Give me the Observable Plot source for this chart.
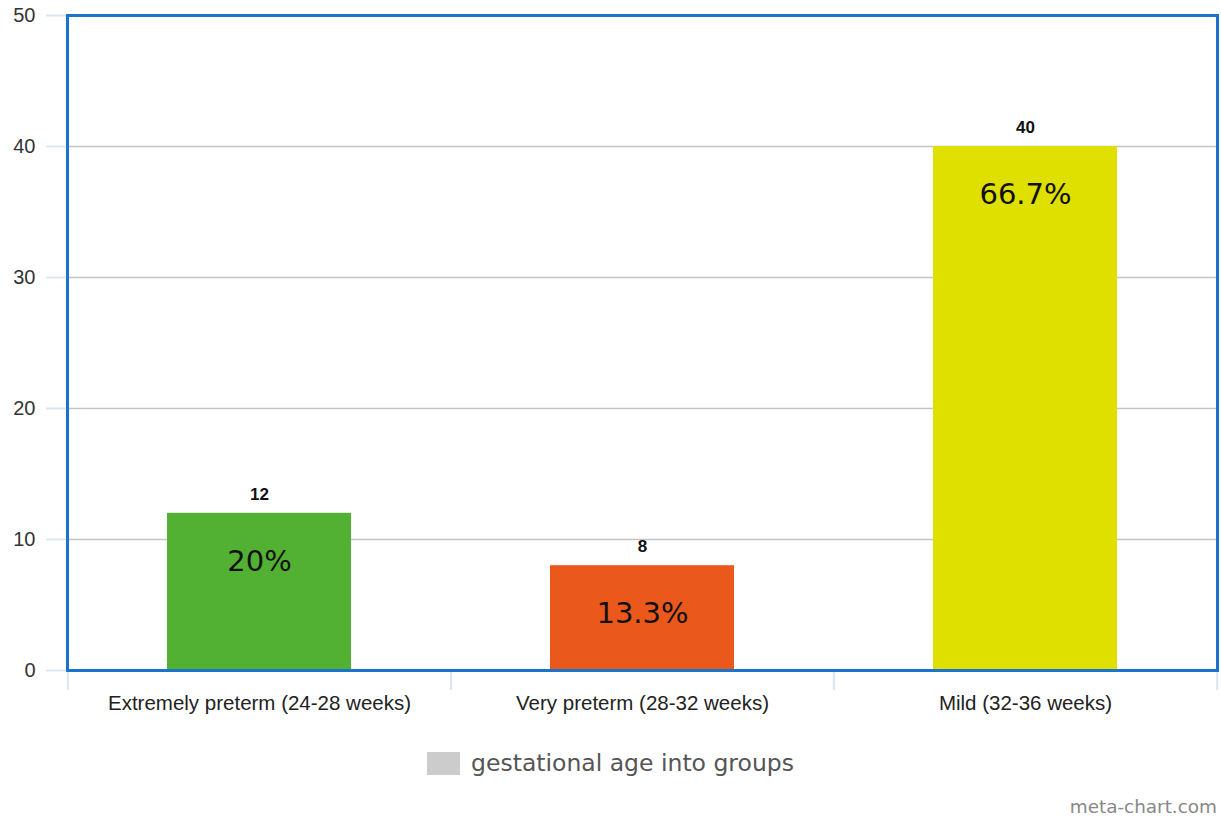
<!DOCTYPE html>
<html>
<head>
<meta charset="utf-8">
<script src="https://cdn.jsdelivr.net/npm/d3@7"></script>
<script src="https://cdn.jsdelivr.net/npm/@observablehq/plot@0.6"></script>
<style>
  html, body { margin: 0; padding: 0; background: #fff; }
  #chart { position: relative; width: 1221px; height: 819px; }
  .legend { position: absolute; left: 0; top: 749px; width: 1221px; display: flex; justify-content: center; align-items: center;
    font-family: "DejaVu Sans", sans-serif; font-size: 23.5px; color: #555; }
  .legend .swatch { width: 33px; height: 23px; background: #cccccc; margin-right: 11px; }
  .credit { position: absolute; right: 4px; top: 796px; font-family: "DejaVu Sans", sans-serif; font-size: 18.4px; color: #888; }
</style>
</head>
<body>
<div id="chart"></div>
<script>
// Preterm births by gestational age group
const groups = ["Extremely preterm (24-28 weeks)", "Very preterm (28-32 weeks)", "Mild (32-36 weeks)"];
const counts = [12, 8, 40];
const shares = ["20%", "13.3%", "66.7%"];
const colors = ["#52b133", "#ea581c", "#dfe000"];
const yTicks = [0, 10, 20, 30, 40, 50];

const data = groups.map((g, i) => ({group: g, count: counts[i], share: shares[i], color: colors[i]}));

const W = 1221, H = 720, mL = 67, mR = 4, mT = 15, mB = 50;
const step = (W - mL - mR) / groups.length;

const plot = Plot.plot({
  width: W,
  height: H,
  marginLeft: mL,
  marginRight: mR,
  marginTop: mT,
  marginBottom: mB,
  style: {fontFamily: "'Liberation Sans', Arial, sans-serif", background: "transparent", overflow: "visible"},
  x: {domain: groups, paddingInner: 0.52, paddingOuter: 0.26, label: null},
  y: {domain: [0, 50], label: null},
  marks: [
    // horizontal gridlines
    Plot.ruleY(yTicks, {stroke: "#c4c4c4", strokeWidth: 1.4}),
    Plot.axisY({ticks: yTicks, tickSize: 21, tickPadding: 11, stroke: "#dde6f0", strokeWidth: 2, fontSize: 20, fill: "#333"}),
    Plot.barY(data, {x: "group", y: "count", fill: "color"}),
    // count above each bar
    Plot.text(data, {x: "group", y: "count", text: d => String(d.count), dy: -19, fontSize: 17, fontWeight: "bold", fill: "#111", letterSpacing: "2px"}),
    // share inside each bar
    Plot.text(data, {x: "group", y: "count", text: "share", dy: 48, fontSize: 29, fill: "#111", fontFamily: "'DejaVu Sans', sans-serif"}),
    // category separators below the axis
    Plot.ruleX(groups, {x: d => d, dx: -step / 2, y1: 0, y2: 0, insetBottom: -20, stroke: "#dde6f0", strokeWidth: 2}),
    Plot.ruleX(groups, {x: d => d, dx: step / 2, y1: 0, y2: 0, insetBottom: -20, stroke: "#dde6f0", strokeWidth: 2}),
    Plot.axisX({tickSize: 0, tickPadding: 25, fontSize: 20.5, fill: "#222"}),
    Plot.frame({stroke: "#1a74cc", strokeWidth: 3})
  ]
});

const root = document.getElementById("chart");
root.appendChild(plot);

const legend = document.createElement("div");
legend.className = "legend";
legend.innerHTML = '<div class="swatch"></div><span>gestational age into groups</span>';
root.appendChild(legend);

const credit = document.createElement("div");
credit.className = "credit";
credit.textContent = "meta-chart.com";
root.appendChild(credit);
</script>
</body>
</html>
